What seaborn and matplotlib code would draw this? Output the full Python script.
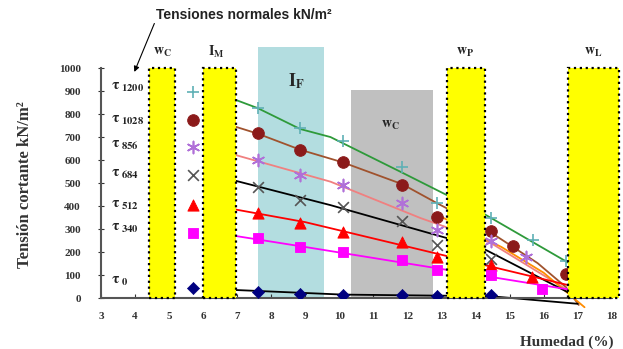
import numpy as np
import pandas as pd
import matplotlib
matplotlib.use("Agg")
import matplotlib.pyplot as plt
import seaborn as sns
from matplotlib.patches import Rectangle

# ---- data ----
x_pts = [5.7, 7.6, 8.85, 10.1, 11.85, 12.88, 14.44]

t1200_x = x_pts + [15.68, 16.65]
t1200_y = [896, 826, 739, 682, 570, 413, 348, 252, 160]
t1028_x = x_pts + [15.1, 16.65]
t1028_y = [774, 717, 643, 591, 491, 352, 291, 226, 105]
t856_x = x_pts + [15.47]
t856_y = [657, 600, 535, 491, 413, 296, 250, 178]
t684_x = x_pts
t684_y = [535, 483, 426, 396, 335, 230, 170]
t512_x = x_pts + [15.65]
t512_y = [404, 370, 326, 287, 243, 178, 143, 91]
t340_x = x_pts + [15.95]
t340_y = [283, 261, 222, 200, 165, 122, 100, 40]
t0_x = x_pts
t0_y = [43, 26, 18, 15, 12, 10, 12]

# trend lines
l1200_x = [6.95, 7.6, 8.85, 9.74, 11.85, 14.2, 16.65, 17.0]
l1200_y = [862, 826, 735, 700, 545, 370, 160, 130]
l1028_x = [6.95, 7.6, 8.85, 10.1, 11.85, 12.9, 14.2, 15.1, 15.82, 16.65, 17.03]
l1028_y = [745, 715, 645, 590, 495, 410, 309, 222, 152, 48, -30]
l856_x = [6.95, 9.74, 12.38, 14.44, 16.7]
l856_y = [622, 506, 348, 240, 35]
lorange_x = [12.9, 14.76, 16.0, 17.2]
lorange_y = [360, 222, 110, -40]
l684_x = [6.95, 9.74, 14.2, 16.7, 17.0]
l684_y = [510, 404, 217, 26, 0]
l512_x = [6.95, 9.0, 16.7, 17.0]
l512_y = [385, 330, 57, 10]
l340_x = [6.95, 9.0, 16.7]
l340_y = [270, 222, 38]
l0_x = [6.95, 10.1, 14.44, 17.0]
l0_y = [35, 15, 8, -25]

tau_names = ["1200", "1028", "856", "684", "512", "340", "0"]
tau_label_y = [917, 774, 665, 538, 404, 304, 70]

# shaded zones: (x0, x1)
yellow_zones = [(4.42, 5.18), (6.0, 6.97), (13.15, 14.29), (16.7, 18.2)]
yellow_names = [r"$\mathbf{w_C}$", r"$\mathbf{I_M}$", r"$\mathbf{w_P}$", r"$\mathbf{w_L}$"]
yellow_label_x = [4.82, 6.4, 13.7, 17.47]

sns.set_style("ticks")
plt.rcParams["font.family"] = ["Liberation Serif", "DejaVu Serif"]
plt.rcParams["mathtext.fontset"] = "stix"

fig = plt.figure(figsize=(6.23, 3.49), dpi=100)
ax = fig.add_axes([0.162, 0.146, 0.820, 0.659])

ax.add_patch(Rectangle((7.62, 0), 9.56 - 7.62, 1090, facecolor="#b3dde0",
                       edgecolor="none", zorder=0.5, clip_on=False))
ax.add_patch(Rectangle((10.35, 0), 12.76 - 10.35, 905, facecolor="#c0c0c0",
                       edgecolor="none", zorder=0.5))
for (x0, x1) in yellow_zones:
    ax.add_patch(Rectangle((x0, 0), x1 - x0, 1000, facecolor="#ffff00",
                           edgecolor="black", linestyle=":", linewidth=1.6,
                           zorder=4, clip_on=False))
for name, xl in zip(yellow_names, yellow_label_x):
    ax.text(xl, 1068, name, ha="center", va="center", fontsize=10, clip_on=False)
ax.text(8.75, 945, r"$\mathbf{I_F}$", ha="center", va="center", fontsize=13)
ax.text(11.5, 752, r"$\mathbf{w_C}$", ha="center", va="center", fontsize=10)

lines = [
    (l1200_x, l1200_y, "#2e9a3a"),
    (l1028_x, l1028_y, "#a0522d"),
    (l856_x, l856_y, "#f08080"),
    (lorange_x, lorange_y, "#ff8c00"),
    (l684_x, l684_y, "black"),
    (l512_x, l512_y, "red"),
    (l340_x, l340_y, "magenta"),
    (l0_x, l0_y, "black"),
]
for lx, ly, c in lines:
    d = pd.DataFrame({"x": lx, "y": ly})
    sns.lineplot(data=d, x="x", y="y", sort=False, color=c, linewidth=1.3,
                 ax=ax, zorder=2, clip_on=False)

pts = [
    (t1200_x, t1200_y, "+", "#5fb0b5", 75),
    (t1028_x, t1028_y, "o", "#8b1a1a", 70),
    (t856_x, t856_y, (6, 2, 0), "#b070d8", 75),
    (t684_x, t684_y, "x", "#555555", 60),
    (t512_x, t512_y, "^", "red", 65),
    (t340_x, t340_y, "s", "magenta", 60),
    (t0_x, t0_y, "D", "#000080", 38),
]
for px, py, m, c, s in pts:
    d = pd.DataFrame({"x": px, "y": py})
    if m in ("+", "x") or isinstance(m, tuple):
        sns.scatterplot(data=d, x="x", y="y", marker=m, color=c, s=s,
                        linewidth=1.2, ax=ax, zorder=3)
    else:
        sns.scatterplot(data=d, x="x", y="y", marker=m, color=c, s=s,
                        edgecolor=c, ax=ax, zorder=3)

for name, yl in zip(tau_names, tau_label_y):
    ax.text(3.3, yl, r"$\mathbf{\tau_{\ %s}}$" % name, fontsize=11,
            va="center", ha="left", color="#222222")

ax.set_xlim(3, 18)
ax.set_ylim(0, 1000)
ax.set_xticks(range(3, 19))
ax.set_yticks(range(0, 1001, 100))
ax.tick_params(axis="y", direction="inout", length=5, labelsize=8, pad=12, colors="#333333")
ax.tick_params(axis="x", direction="in", length=3, labelsize=8, pad=10, colors="#333333")
for lab in ax.get_xticklabels() + ax.get_yticklabels():
    lab.set_fontweight("bold")
ax.spines["left"].set_color("#555555")
ax.spines["bottom"].set_color("#555555")
ax.spines["left"].set_linewidth(1.5)
ax.spines["bottom"].set_linewidth(1.5)
sns.despine(ax=ax)
ax.set_xlabel("")
ax.set_ylabel("")

fig.text(25 / 623, 1 - 185 / 349, "Tensión cortante kN/m²", rotation=90,
         ha="center", va="center", fontsize=12, fontweight="bold", color="#333333")
fig.text(613 / 623, 1 - 342 / 349, "Humedad (%)", ha="right", va="center",
         fontsize=11, fontweight="bold", color="#333333")

ax.annotate("", xy=(3.95, 972), xytext=(4.6, 1205), annotation_clip=False,
            arrowprops=dict(arrowstyle="-|>", color="black", lw=0.8, mutation_scale=8))
ax.text(4.62, 1232, "Tensiones normales kN/m²", family=["Liberation Sans", "DejaVu Sans"],
        fontsize=10, fontweight="bold", color="#222222", va="center", ha="left",
        clip_on=False)

fig.savefig("out.png", dpi=100)
